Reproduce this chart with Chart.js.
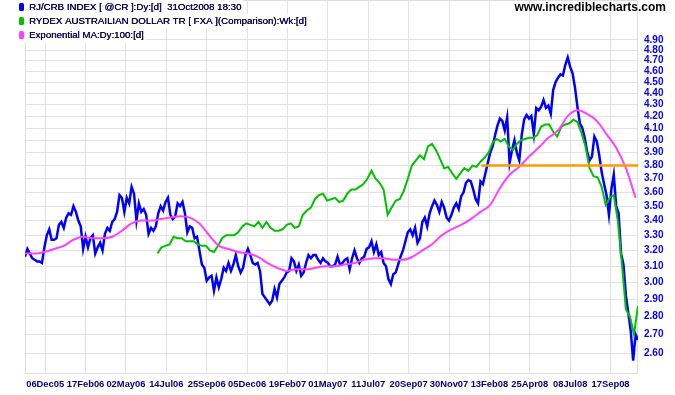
<!DOCTYPE html>
<html>
<head>
<meta charset="utf-8">
<script src="https://cdn.jsdelivr.net/npm/chart.js@4"></script>
<style>html,body{margin:0;padding:0;background:#fff}canvas{display:block}</style>
</head>
<body>
<canvas id="chart" width="675" height="395"></canvas>
<script>
// x axis is counted in trading days from the first bar (about 31 Oct 2005)
const tickLabels = ['06Dec05','17Feb06','02May06','14Jul06','25Sep06','05Dec06','19Feb07','01May07',
  '11Jul07','20Sep07','30Nov07','13Feb08','25Apr08','08Jul08','17Sep08'];
const tickDays = [25,75,125,175,225,275,325,375,425,475,525,575,625,675,725];
const yTicks = [2.6,2.7,2.8,2.9,3.0,3.1,3.2,3.3,3.4,3.5,3.6,3.7,3.8,3.9,4.0,4.1,4.2,4.3,4.4,4.5,4.6,4.7,4.8,4.9];

// RJ/CRB index, one value every 3 trading days
const crbStep = 3;
const crb = [
  3.16,3.21,3.18,3.15,3.14,3.13,3.13,3.12,3.22,3.30,
  3.34,3.27,3.27,3.28,3.37,3.39,3.35,3.42,3.45,3.44,
  3.50,3.46,3.40,3.36,3.21,3.29,3.22,3.28,3.30,3.18,
  3.22,3.25,3.20,3.31,3.35,3.33,3.39,3.41,3.46,3.58,
  3.56,3.46,3.56,3.52,3.64,3.59,3.40,3.52,3.46,3.48,
  3.44,3.31,3.35,3.33,3.36,3.45,3.50,3.47,3.53,3.56,
  3.44,3.41,3.43,3.52,3.50,3.53,3.45,3.32,3.36,3.35,
  3.28,3.29,3.20,3.11,3.09,3.01,3.03,3.04,2.95,3.03,
  2.97,3.02,3.09,3.07,3.12,3.07,3.11,3.17,3.10,3.06,
  3.09,3.17,3.21,3.17,3.12,3.11,3.12,3.07,2.93,2.91,
  2.89,2.87,2.89,2.96,2.91,2.99,3.01,3.03,3.06,3.07,
  3.15,3.13,3.07,3.11,3.04,3.06,3.12,3.17,3.15,3.17,
  3.17,3.14,3.12,3.15,3.13,3.12,3.10,3.10,3.11,3.16,
  3.11,3.12,3.14,3.15,3.08,3.15,3.20,3.15,3.12,3.15,
  3.16,3.21,3.22,3.26,3.19,3.24,3.17,3.19,3.12,3.10,
  3.02,2.99,3.05,3.06,3.11,3.16,3.20,3.26,3.32,3.34,
  3.30,3.35,3.25,3.28,3.39,3.42,3.36,3.45,3.50,3.54,
  3.51,3.46,3.53,3.49,3.42,3.40,3.44,3.49,3.52,3.48,
  3.57,3.60,3.67,3.69,3.68,3.62,3.55,3.52,3.68,3.66,
  3.74,3.82,3.90,3.95,4.04,4.12,4.18,4.16,4.08,4.19,
  3.82,3.92,4.00,3.90,3.84,4.04,4.17,4.21,4.18,4.20,
  4.05,4.27,4.25,4.28,4.34,4.27,4.29,4.22,4.43,4.50,
  4.54,4.57,4.56,4.66,4.73,4.64,4.58,4.45,4.28,4.14,
  4.10,4.02,3.91,3.84,3.87,4.03,3.99,3.88,3.75,3.66,
  3.58,3.44,3.62,3.73,3.50,3.45,3.18,3.11,2.92,2.82,
  2.72,2.56,2.70,2.67
];

// Rydex Australian Dollar (FXA) comparison, weekly
const fxaStart = 164;
const fxaStep = 5;
const fxa = [
  3.18,3.22,3.23,3.24,3.29,3.28,3.28,3.26,3.26,3.26,
  3.24,3.23,3.23,3.20,3.19,3.23,3.28,3.30,3.30,3.30,
  3.32,3.36,3.38,3.37,3.36,3.39,3.35,3.39,3.35,3.33,
  3.33,3.34,3.37,3.38,3.35,3.36,3.44,3.47,3.49,3.55,
  3.58,3.59,3.54,3.55,3.56,3.53,3.54,3.59,3.62,3.62,
  3.64,3.66,3.70,3.76,3.70,3.67,3.62,3.44,3.49,3.54,
  3.55,3.61,3.70,3.80,3.84,3.88,3.85,3.95,3.97,3.92,
  3.85,3.78,3.79,3.74,3.70,3.74,3.78,3.76,3.80,3.79,
  3.83,3.86,3.90,3.98,4.01,3.99,4.01,3.95,3.92,3.97,
  4.00,4.01,4.02,4.02,4.04,4.11,4.13,4.13,4.07,4.03,
  4.11,4.13,4.14,4.17,4.15,4.06,3.95,3.78,3.72,3.71,
  3.64,3.51,3.56,3.58,3.40,3.12,2.84,2.80,2.70,2.86
];

// exponential MA 100 of the index, every 12 trading days
const emaStep = 12;
const ema = [
  3.18,3.18,3.19,3.21,3.23,3.27,3.29,3.28,3.28,3.29,
  3.33,3.38,3.40,3.40,3.41,3.42,3.43,3.42,3.38,3.30,
  3.23,3.21,3.19,3.18,3.16,3.12,3.09,3.07,3.08,3.08,
  3.09,3.10,3.10,3.11,3.12,3.14,3.15,3.15,3.14,3.14,
  3.16,3.20,3.24,3.30,3.34,3.37,3.41,3.46,3.51,3.63,
  3.73,3.79,3.87,3.94,4.02,4.08,4.20,4.25,4.22,4.16,
  4.05,3.94,3.78,3.56
];

// horizontal line
const lineLevel = 3.80;
const lineDays = [565, 759];

const legendRows = [
  'RJ/CRB INDEX [ @CR ]:Dy:[d]  31Oct2008 18:30',
  'RYDEX AUSTRAILIAN DOLLAR TR [ FXA ](Comparison):Wk:[d]',
  'Exponential MA:Dy:100:[d]'
];
const legendColors = ['#0000ff', '#00c000', '#ff40ff'];

Chart.defaults.font.family = "'Liberation Sans', Arial, sans-serif";

const frame = {
  id: 'frame',
  beforeDatasetsDraw(chart) {
    const {ctx, chartArea: a} = chart;
    ctx.save();
    ctx.strokeStyle = '#dedede';
    ctx.lineWidth = 1;
    ctx.strokeRect(a.left + 0.5, a.top + 0.5, a.right - a.left - 1, a.bottom - a.top - 1);
    ctx.restore();
  }
};

const overlay = {
  id: 'overlay',
  afterDraw(chart) {
    const ctx = chart.ctx;
    ctx.save();
    ctx.font = "9.7px 'Liberation Sans', Arial, sans-serif";
    ctx.textBaseline = 'middle';
    legendRows.forEach((t, i) => {
      const y = 7 + i * 14;
      const w = ctx.measureText(t).width;
      ctx.fillStyle = '#fff';
      ctx.fillRect(17, y - 7, w + 14, 14);
      ctx.fillStyle = legendColors[i];
      ctx.beginPath();
      ctx.roundRect(19, y - 4, 5, 8, 1.5);
      ctx.fill();
      ctx.fillStyle = '#000050';
      ctx.fillText(t, 29, y);
      ctx.fillText(t, 29.3, y);
    });
    ctx.font = "bold 12px 'Liberation Sans', Arial, sans-serif";
    ctx.fillStyle = '#000';
    ctx.textAlign = 'right';
    ctx.fillText('www.incrediblecharts.com', 666, 8);
    ctx.restore();
  }
};

const gridColor = '#e2e2e2';

new Chart(document.getElementById('chart'), {
  type: 'line',
  data: {
    datasets: [
      {
        data: lineDays.map(d => ({x: d, y: lineLevel})),
        borderColor: '#ff9900', borderWidth: 2.5
      },
      {
        data: ema.map((v, i) => ({x: i * emaStep, y: v})),
        borderColor: '#ff40ff', borderWidth: 2, cubicInterpolationMode: 'monotone'
      },
      {
        data: fxa.map((v, i) => ({x: fxaStart + i * fxaStep, y: v})),
        borderColor: '#00c000', borderWidth: 2
      },
      {
        data: crb.map((v, i) => ({x: i * crbStep, y: v})),
        borderColor: '#0000ff', borderWidth: 2.5
      }
    ]
  },
  options: {
    responsive: false,
    animation: false,
    devicePixelRatio: 1,
    layout: {padding: {left: 25, top: 0, right: 0, bottom: 0}},
    plugins: {legend: {display: false}, tooltip: {enabled: false}},
    elements: {point: {radius: 0}, line: {tension: 0}},
    scales: {
      x: {
        type: 'linear', min: 0, max: 759,
        afterBuildTicks: s => { s.ticks = tickDays.map(v => ({value: v})); },
        afterFit: s => { s.height = 21; s.paddingLeft = 0; s.paddingRight = 0; },
        grid: {color: gridColor, drawTicks: false},
        border: {display: false},
        ticks: {
          autoSkip: false, maxRotation: 0, padding: 5,
          color: '#000080', font: {size: 9.4, weight: 'bold'},
          callback: (v, i) => tickLabels[i]
        }
      },
      y: {
        type: 'logarithmic', position: 'right', min: 2.492, max: 5.313,
        afterBuildTicks: s => { s.ticks = yTicks.map(v => ({value: v})); },
        afterFit: s => { s.width = 37; s.paddingTop = 0; s.paddingBottom = 0; },
        grid: {color: gridColor, drawTicks: false},
        border: {display: false},
        ticks: {
          padding: 6, color: '#0000ff', font: {size: 10, weight: 'bold'},
          callback: v => v.toFixed(2)
        }
      }
    }
  },
  plugins: [frame, overlay]
});
</script>
</body>
</html>
